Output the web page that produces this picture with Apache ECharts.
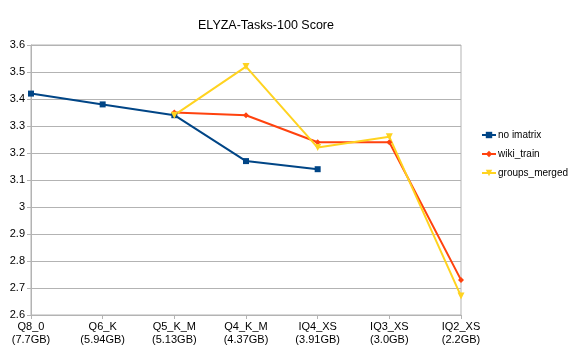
<!DOCTYPE html>
<html><head><meta charset="utf-8">
<script src="https://cdn.jsdelivr.net/npm/echarts@6/dist/echarts.min.js"></script>
<style>html,body{margin:0;padding:0;background:#fff}#c{width:586px;height:351px}</style>
</head><body><div id="c"></div>
<script>
const categories = ['Q8_0\n(7.7GB)','Q6_K\n(5.94GB)','Q5_K_M\n(5.13GB)','Q4_K_M\n(4.37GB)','IQ4_XS\n(3.91GB)','IQ3_XS\n(3.0GB)','IQ2_XS\n(2.2GB)'];
const noImatrix = [3.42, 3.38, 3.34, 3.17, 3.14, null, null];
const wikiTrain = [null, null, 3.35, 3.34, 3.24, 3.24, 2.73];
const groupsMerged = [null, null, 3.34, 3.52, 3.22, 3.26, 2.67];
const titleText = 'ELYZA-Tasks-100 Score';

const chart = echarts.init(document.getElementById('c'), null, {renderer:'canvas'});
const font = 'Liberation Sans';
chart.setOption({
  animation:false,
  backgroundColor:'#fff',
  title:{text:titleText,left:261,top:14,textAlign:'center',textStyle:{fontFamily:font,fontSize:12.5,fontWeight:'normal',color:'#000'}},
  grid:{left:31,right:125,top:45,bottom:36,show:true,borderColor:'#b3b3b3',borderWidth:1},
  legend:{orient:'vertical',left:476,top:125,itemGap:9,itemWidth:14,itemHeight:8,
    textStyle:{fontFamily:font,fontSize:10,color:'#000',padding:[0,0,0,-3]},
    data:['no imatrix','wiki_train','groups_merged']},
  xAxis:{type:'category',data:categories,boundaryGap:false,
    axisLine:{lineStyle:{color:'#b3b3b3'}},
    axisTick:{show:true,length:4,lineStyle:{color:'#b3b3b3'}},
    axisLabel:{fontFamily:font,fontSize:11,color:'#000',lineHeight:12.5,margin:6,interval:0},
    splitLine:{show:false}},
  yAxis:{type:'value',min:2.6,max:3.6,interval:0.1,
    axisLine:{show:true,lineStyle:{color:'#b3b3b3'}},
    axisTick:{show:true,length:4,lineStyle:{color:'#b3b3b3'}},
    axisLabel:{fontFamily:font,fontSize:11,color:'#000',margin:6,formatter:v=>String(Math.round(v*10)/10)},
    splitLine:{lineStyle:{color:'#b3b3b3',width:1}}},
  series:[
    {name:'no imatrix',type:'line',data:noImatrix,color:'#004586',symbol:'rect',symbolSize:6,lineStyle:{width:2}},
    {name:'wiki_train',type:'line',data:wikiTrain,color:'#ff420e',symbol:'diamond',symbolSize:6,lineStyle:{width:2}},
    {name:'groups_merged',type:'line',data:groupsMerged,color:'#ffd320',symbol:'triangle',symbolRotate:180,symbolSize:7,lineStyle:{width:2}}
  ]
});
</script></body></html>
